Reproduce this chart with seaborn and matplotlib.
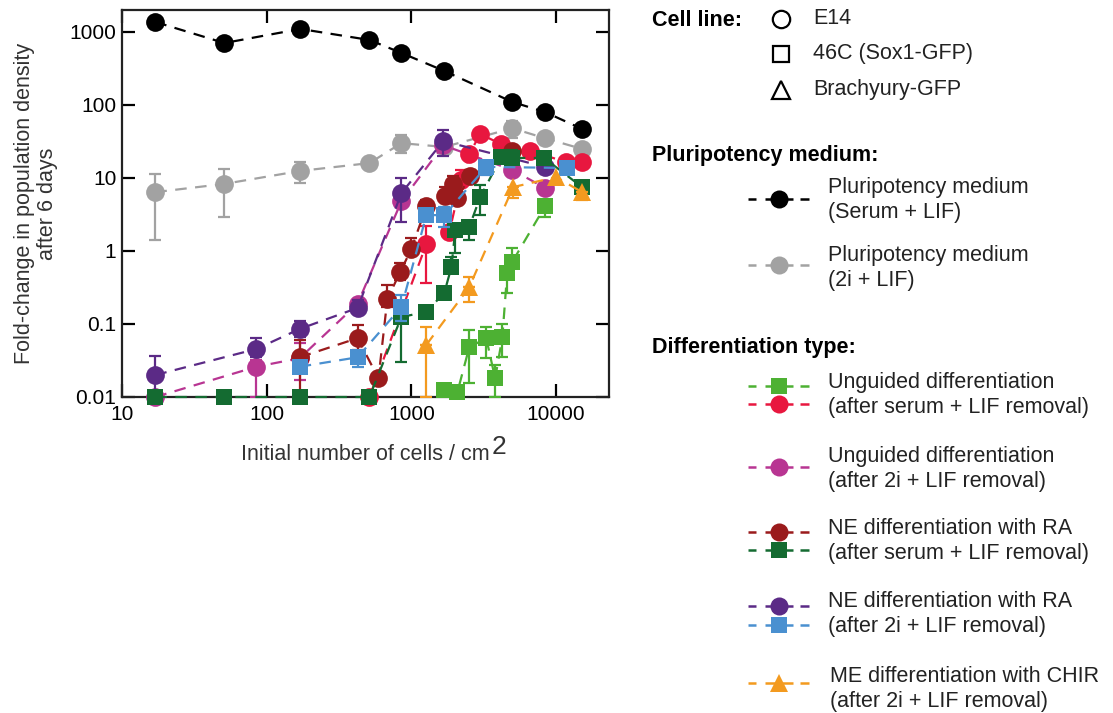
import numpy as np
import pandas as pd
import seaborn as sns
import matplotlib
matplotlib.use("Agg")
import matplotlib.pyplot as plt

nan = np.nan

# ---------------- data ----------------
serum_lif_x = [17, 51, 171, 513, 853, 1690, 4980, 8390, 15100]
serum_lif_y = [1370, 706, 1100, 777, 516, 292, 110, 80, 47]
serum_lif_lo = [nan] * 9
serum_lif_hi = [nan] * 9

twoi_lif_x = [17, 51, 171, 513, 853, 1690, 4980, 8390, 15100]
twoi_lif_y = [6.4, 8.3, 12.5, 16, 30, 26.6, 48, 35, 25]
twoi_lif_lo = [1.4, 2.9, 8.5, nan, 22, nan, 35, nan, nan]
twoi_lif_hi = [11.3, 13.3, 16.6, nan, 38.8, nan, 60, nan, nan]

ung_serum_e14_x = [513, 1270, 1830, 2210, 2510, 2990, 4180, 6620, 11700, 15100]
ung_serum_e14_y = [0.01, 1.25, 1.82, 9.4, 21.3, 40, 29, 23.4, 16.6, 16.6]
ung_serum_e14_lo = [nan, 0.36, nan, nan, nan, nan, nan, nan, nan, nan]
ung_serum_e14_hi = [nan, 2.2, nan, 13, nan, nan, nan, nan, nan, nan]

ung_serum_46c_x = [1690, 2080, 2510, 3290, 3790, 4250, 4590, 4980, 8390]
ung_serum_46c_y = [0.0125, 0.0117, 0.048, 0.064, 0.018, 0.066, 0.5, 0.71, 4.1]
ung_serum_46c_lo = [nan, nan, 0.0155, 0.034, 0.01, 0.035, 0.27, nan, 2.9]
ung_serum_46c_hi = [nan, nan, 0.083, 0.09, 0.0275, 0.1, nan, 1.1, nan]

ung_2i_e14_x = [17, 85, 169, 425, 853, 1660, 4980, 8390]
ung_2i_e14_y = [0.01, 0.026, 0.034, 0.19, 4.8, 28, 12.9, 7.3]
ung_2i_e14_lo = [nan, 0.01, 0.017, nan, nan, nan, nan, nan]
ung_2i_e14_hi = [nan, 0.032, 0.055, nan, nan, nan, nan, nan]

ne_serum_e14_x = [169, 425, 592, 682, 839, 1000, 1270, 1710, 1950, 2080, 2550, 4980]
ne_serum_e14_y = [0.035, 0.064, 0.018, 0.22, 0.52, 1.07, 4.1, 5.7, 8.3, 5.3, 10.6, 23.4]
ne_serum_e14_lo = [0.01, 0.044, nan, 0.17, 0.40, nan, nan, nan, nan, nan, nan, nan]
ne_serum_e14_hi = [0.06, 0.097, nan, 0.34, 0.68, 1.5, 5.0, 7.5, 10.5, nan, 13, nan]

ne_serum_46c_x = [17, 51, 171, 513, 853, 1270, 1690, 1890, 2010, 2510, 2990, 4180, 4980, 8260, 15100]
ne_serum_46c_y = [0.01, 0.01, 0.01, 0.01, 0.125, 0.146, 0.27, 0.6, 1.94, 2.13, 5.5, 19.4, 18.8, 18.8, 7.5]
ne_serum_46c_lo = [nan, nan, nan, nan, 0.03, nan, nan, nan, 0.94, 1.4, 3.1, nan, nan, nan, nan]
ne_serum_46c_hi = [nan, nan, nan, nan, 0.2, nan, nan, 0.83, nan, nan, 8.0, nan, 24, nan, nan]

ne_2i_e14_x = [17, 85, 169, 425, 853, 1660, 8390]
ne_2i_e14_y = [0.02, 0.0455, 0.0855, 0.166, 6.2, 32, 14.2]
ne_2i_e14_lo = [0.011, 0.035, 0.066, nan, 2.5, 20, nan]
ne_2i_e14_hi = [0.036, 0.064, 0.11, 0.21, 10, 45, nan]

ne_2i_46c_x = [169, 425, 853, 1270, 1690, 3290, 11900]
ne_2i_46c_y = [0.026, 0.035, 0.171, 3.1, 3.1, 14.2, 13.7]
ne_2i_46c_lo = [nan, 0.026, 0.11, nan, 2.1, 11, nan]
ne_2i_46c_hi = [nan, nan, 0.25, nan, 4.0, nan, nan]

me_2i_bra_x = [1270, 2510, 5050, 10000, 15100]
me_2i_bra_y = [0.052, 0.32, 7.5, 10.3, 6.4]
me_2i_bra_lo = [0.01, 0.2, 5.3, nan, 5.0]
me_2i_bra_hi = [0.09, 0.44, nan, nan, nan]

x_ticks = [10, 100, 1000, 10000]
x_tick_labels = ["10", "100", "1000", "10000"]
y_ticks = [0.01, 0.1, 1, 10, 100, 1000]
y_tick_labels = ["0.01", "0.1", "1", "10", "100", "1000"]

C_BLACK = "#000000"
C_GRAY = "#A2A2A2"
C_RED = "#E8173F"
C_LGREEN = "#4DB133"
C_MAGENTA = "#B83592"
C_DRED = "#9A1B1C"
C_DGREEN = "#146B31"
C_PURPLE = "#5B2A86"
C_BLUE = "#4A90D0"
C_ORANGE = "#F39A1F"

series = [
    (twoi_lif_x, twoi_lif_y, twoi_lif_lo, twoi_lif_hi, C_GRAY, "o", 13.5),
    (serum_lif_x, serum_lif_y, serum_lif_lo, serum_lif_hi, C_BLACK, "o", 13.5),
    (ung_2i_e14_x, ung_2i_e14_y, ung_2i_e14_lo, ung_2i_e14_hi, C_MAGENTA, "o", 13.5),
    (ung_serum_e14_x, ung_serum_e14_y, ung_serum_e14_lo, ung_serum_e14_hi, C_RED, "o", 13.5),
    (ne_serum_e14_x, ne_serum_e14_y, ne_serum_e14_lo, ne_serum_e14_hi, C_DRED, "o", 13.5),
    (ne_2i_e14_x, ne_2i_e14_y, ne_2i_e14_lo, ne_2i_e14_hi, C_PURPLE, "o", 13.5),
    (ne_serum_46c_x, ne_serum_46c_y, ne_serum_46c_lo, ne_serum_46c_hi, C_DGREEN, "s", 11.5),
    (ne_2i_46c_x, ne_2i_46c_y, ne_2i_46c_lo, ne_2i_46c_hi, C_BLUE, "s", 11.5),
    (ung_serum_46c_x, ung_serum_46c_y, ung_serum_46c_lo, ung_serum_46c_hi, C_LGREEN, "s", 11.5),
    (me_2i_bra_x, me_2i_bra_y, me_2i_bra_lo, me_2i_bra_hi, C_ORANGE, "^", 13.5),
]

# ---------------- style ----------------
sns.set_theme(style="ticks")
plt.rcParams["font.family"] = ["Liberation Sans", "DejaVu Sans"]
plt.rcParams["axes.linewidth"] = 1.6

fig = plt.figure(figsize=(11.13, 7.13), dpi=100)
ax = fig.add_axes([122 / 1113, 1 - 397 / 713, (609 - 122) / 1113, (397 - 10) / 713])

DASH = (0, (5.2, 3.8))
for i, (xs, ys, lo, hi, col, mk, ms) in enumerate(series):
    df = pd.DataFrame({"x": xs, "y": ys, "lo": lo, "hi": hi})
    z = 3 + i
    sns.lineplot(data=df, x="x", y="y", ax=ax, color=col, marker=mk,
                 markersize=ms, markeredgewidth=0, linewidth=1.6,
                 linestyle=DASH, estimator=None, sort=False,
                 clip_on=False, zorder=z + 0.5)
    ml = df[np.isfinite(df["lo"])]
    if len(ml):
        ax.errorbar(ml["x"], ml["y"], yerr=[ml["y"] - ml["lo"], np.zeros(len(ml))],
                    fmt="none", ecolor=col, elinewidth=1.6, capsize=4.5,
                    capthick=1.6, zorder=z)
    mh = df[np.isfinite(df["hi"])]
    if len(mh):
        ax.errorbar(mh["x"], mh["y"], yerr=[np.zeros(len(mh)), mh["hi"] - mh["y"]],
                    fmt="none", ecolor=col, elinewidth=1.6, capsize=4.5,
                    capthick=1.6, zorder=z)

ax.set_xscale("log")
ax.set_yscale("log")
ax.set_xlim(10, 23200)
ax.set_ylim(0.01, 2000)
ax.set_xticks(x_ticks)
ax.set_xticklabels(x_tick_labels)
ax.set_yticks(y_ticks)
ax.set_yticklabels(y_tick_labels)
ax.minorticks_off()
ax.tick_params(which="major", direction="in", length=9.5, width=1.6,
               top=True, right=True, labelsize=15, colors="black", pad=4)
ax.tick_params(axis="x", pad=6)
for s in ax.spines.values():
    s.set_visible(True)
    s.set_linewidth(1.6)
    s.set_color("#222222")

ax.set_ylabel("Fold-change in population density\nafter 6 days", fontsize=15.5,
              color="#333333", labelpad=8, linespacing=1.15)
ax.set_xlabel("Initial number of cells / cm", fontsize=15.5, color="#333333",
              labelpad=14)

fig.canvas.draw()
bb = ax.xaxis.label.get_window_extent(fig.canvas.get_renderer())
inv = fig.transFigure.inverted()
x1, y1 = inv.transform((bb.x1, bb.y1))
fig.text(x1 + 0.002, y1 - 0.004, "2", fontsize=19, color="#333333", ha="left", va="center")

# ---------------- legend (drawn in pixel coordinates) ----------------
lax = fig.add_axes([0, 0, 1, 1], zorder=-1)
lax.set_xlim(0, 1113)
lax.set_ylim(713, 0)
lax.axis("off")

FS = 15.5
TITLE_KW = dict(fontsize=15.5, fontweight="bold", color="black", va="center", ha="left")
TXT_KW = dict(fontsize=FS, color="#222222", va="center", ha="left", linespacing=1.2)

lax.text(652, 20, "Cell line:", **TITLE_KW)
cell_markers = ["o", "s", "^"]
cell_names = ["E14", "46C (Sox1-GFP)", "Brachyury-GFP"]
cell_ys = [19, 54, 90]
for mk, name, yy in zip(cell_markers, cell_names, cell_ys):
    lax.plot([781], [yy], marker=mk, markersize=12.5 if mk != "s" else 11,
             markerfacecolor="white", markeredgecolor="black", markeredgewidth=1.6,
             linestyle="none")
    lax.text(813, yy - 1, name, **TXT_KW)

lax.text(652, 156, "Pluripotency medium:", **TITLE_KW)
lax.text(652, 348, "Differentiation type:", **TITLE_KW)


def handle(yy, col, mk):
    for xa, xb in [(748, 756), (765, 793), (800, 809)]:
        lax.plot([xa, xb], [yy, yy], color=col, linewidth=1.8, solid_capstyle="butt")
    lax.plot([779], [yy], marker=mk, markersize=13 if mk != "s" else 11.5,
             color=col, markeredgewidth=0, linestyle="none")


handle(199, C_BLACK, "o")
lax.text(828, 200, "Pluripotency medium\n(Serum + LIF)", **TXT_KW)
handle(265, C_GRAY, "o")
lax.text(828, 268, "Pluripotency medium\n(2i + LIF)", **TXT_KW)

handle(386, C_LGREEN, "s")
handle(404, C_RED, "o")
lax.text(828, 395, "Unguided differentiation\n(after serum + LIF removal)", **TXT_KW)
handle(467, C_MAGENTA, "o")
lax.text(828, 469, "Unguided differentiation\n(after 2i + LIF removal)", **TXT_KW)
handle(532, C_DRED, "o")
handle(550, C_DGREEN, "s")
lax.text(828, 541, "NE differentiation with RA\n(after serum + LIF removal)", **TXT_KW)
handle(606, C_PURPLE, "o")
handle(625, C_BLUE, "s")
lax.text(828, 614, "NE differentiation with RA\n(after 2i + LIF removal)", **TXT_KW)
handle(683, C_ORANGE, "^")
lax.text(830, 689, "ME differentiation with CHIR\n(after 2i + LIF removal)", **TXT_KW)

fig.savefig("out.png", dpi=100)
